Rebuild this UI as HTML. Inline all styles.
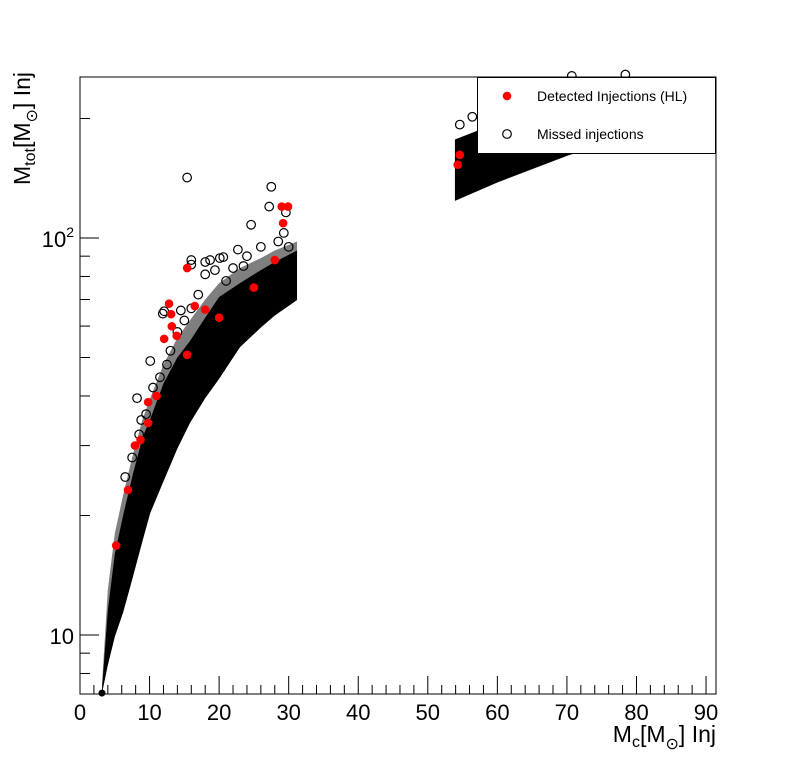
<!DOCTYPE html>
<html><head><meta charset="utf-8"><style>
html,body{margin:0;padding:0;background:#fff;}
svg{display:block;font-family:"Liberation Sans","DejaVu Sans",sans-serif;}
</style></head><body>
<svg id="chart" width="796" height="772" viewBox="0 0 796 772" xmlns="http://www.w3.org/2000/svg">
<rect x="0" y="0" width="796" height="772" fill="#fff"/>
<g id="bands"></g>
<g id="points"></g>
<g id="axes"></g>
<rect x="80" y="77" width="636" height="617" fill="none" stroke="#000" stroke-width="1"/>
<g>
<rect x="477.5" y="77.5" width="238" height="76" fill="#fff" stroke="#000" stroke-width="1"/>
<circle cx="507" cy="96" r="4.3" fill="#ff0000"/>
<text x="537" y="101" font-size="14">Detected Injections (HL)</text>
<circle cx="507" cy="134" r="4.3" fill="none" stroke="#000" stroke-width="1.2"/>
<text x="537" y="139" font-size="14">Missed injections</text>
</g>
<text x="716" y="742" text-anchor="end" font-size="23">M<tspan font-size="16" dy="5">c</tspan><tspan dy="-5">[M</tspan><tspan font-size="16" dy="7">⊙</tspan><tspan dy="-7">] Inj</tspan></text>
<text transform="translate(30,72) rotate(-90)" text-anchor="end" font-size="23">M<tspan font-size="16" dy="5">tot</tspan><tspan dy="-5">[M</tspan><tspan font-size="16" dy="7">⊙</tspan><tspan dy="-7">] Inj</tspan></text>
</svg>
<script>
// ---- data ----
const xTicks = [0,10,20,30,40,50,60,70,80,90];
const yMajorTicks = [10,100];
const yMinorTicks = [8,9,20,30,40,50,60,70,80,90,200];
// dense core band
const bandMc     = [3.16, 4, 5, 6.2, 7.5, 9, 10.1, 12, 14, 15.8, 18, 20, 23, 26, 28, 31.2];
const bandLow    = [7.14, 8.4, 9.9, 11.4, 13.8, 17.3, 20.3, 24.4, 29.5, 34.2, 39.5, 44.2, 53.1, 59.5, 63.8, 69.8];
const bandHigh   = [7.3, 11.5, 16, 20, 25, 31.5, 35, 43, 50, 55, 63, 71, 77, 83, 87, 93];
const fringeHigh = [7.5, 13, 18, 22.5, 28, 35, 39.5, 48, 56, 62, 70, 77, 84, 89, 93, 98];
// high-mass cluster
const band2Mc   = [53.9, 60, 70, 80, 91.4];
const band2Low  = [124, 138, 161, 184, 210];
const band2High = [177, 195, 215, 235, 254];
// missed (open) outliers
const missedMc   = [15.4,27.5,27.2,24.6,29.6,29.3,16,16,18,20.1,20.6,18.7,22.7,18,19.4,12.1,11.9,14.5,16,10.1,8.2,8.8,11.5,54.6,56.4,70.7,78.4,55.5,57,26,21,23.5,13,17,9.5,7.5,14,15,12.5,10.5,8.5,6.5,28.5,30,24,22];
const missedMtot = [142,134.6,120,108,116,103,88,85.7,87,89,89.5,88,93.5,81,83,65.4,64.5,65.7,66.5,49,39.5,34.8,44.6,193,202,256,258,170,180,95,78,85,52,72,36,28,58,62,48,42,32,25,98,95,90,84];
// detected (red) outliers
const detMc   = [29.0,29.9,29.2,15.4,12.8,13.1,13.2,12.1,13.9,16.5,9.8,9.8,54.6,54.3,6.9,5.2,7.9,15.4,25,20,11,8.7,28,18];
const detMtot = [120,120,109,84,68.3,64.3,59.9,55.7,56.7,67.4,38.6,34.2,162,153,23.2,16.8,30,50.8,75,63,40,31,88,66];

// ---- scales ----
const X0=80, XPX=6.956;
function sx(v){return X0+v*XPX;}
function sy(v){return 1032-397*Math.log10(v);}
const NS="http://www.w3.org/2000/svg";
function mk(tag,attrs,parent){const e=document.createElementNS(NS,tag);for(const k in attrs)e.setAttribute(k,attrs[k]);parent.appendChild(e);return e;}

const bands=document.getElementById('bands');
function poly(mc,lo,hi){let p=[];for(let i=0;i<mc.length;i++)p.push(sx(mc[i])+','+sy(lo[i]));for(let i=mc.length-1;i>=0;i--)p.push(sx(mc[i])+','+sy(hi[i]));return p.join(' ');}
let f=mk('polygon',{points:poly(bandMc,bandLow,fringeHigh),fill:'#000','fill-opacity':'0.5'},bands);


let b1=mk('polygon',{points:poly(bandMc,bandLow,bandHigh),fill:'#000'},bands);


let b2=mk('polygon',{points:poly(band2Mc,band2Low,band2High),fill:'#000'},bands);


let cap=mk('circle',{cx:sx(bandMc[0]),cy:sy(bandLow[0]),r:3.5,fill:'#000'},bands);



const pts=document.getElementById('points');
for(let i=0;i<missedMc.length;i++){
  const c=mk('circle',{cx:sx(missedMc[i]),cy:sy(missedMtot[i]),r:4.3,fill:'none',stroke:'#000','stroke-width':1.2},pts);
  
  
}
for(let i=0;i<detMc.length;i++){
  const c=mk('circle',{cx:sx(detMc[i]),cy:sy(detMtot[i]),r:4.3,fill:'#ff0000'},pts);
  
  
}

const ax=document.getElementById('axes');
const YB=694;
for(let v=0;v<=91;v+=2){
  const major=v%10===0;
  const t=mk('line',{x1:sx(v),x2:sx(v),y1:YB,y2:YB-(major?18:9),stroke:'#000','stroke-width':1},ax);
  
  
}
xTicks.forEach(v=>{
  const t=mk('text',{x:sx(v),y:720,'text-anchor':'middle','font-size':22},ax);
  t.textContent=v;
  
  
});
yMajorTicks.forEach(v=>{
  const t=mk('line',{x1:80,x2:99,y1:sy(v),y2:sy(v),stroke:'#000'},ax);
  
  
});
yMinorTicks.forEach(v=>{
  const t=mk('line',{x1:80,x2:90,y1:sy(v),y2:sy(v),stroke:'#000'},ax);
  
  
});
let l1=mk('text',{x:74,y:sy(10)+9,'text-anchor':'end','font-size':22},ax);
l1.textContent='10';


let l2=mk('text',{x:74,y:sy(100)+9,'text-anchor':'end','font-size':22},ax);
l2.innerHTML='10<tspan font-size="14" dy="-10">2</tspan>';


</script>
</body></html>
